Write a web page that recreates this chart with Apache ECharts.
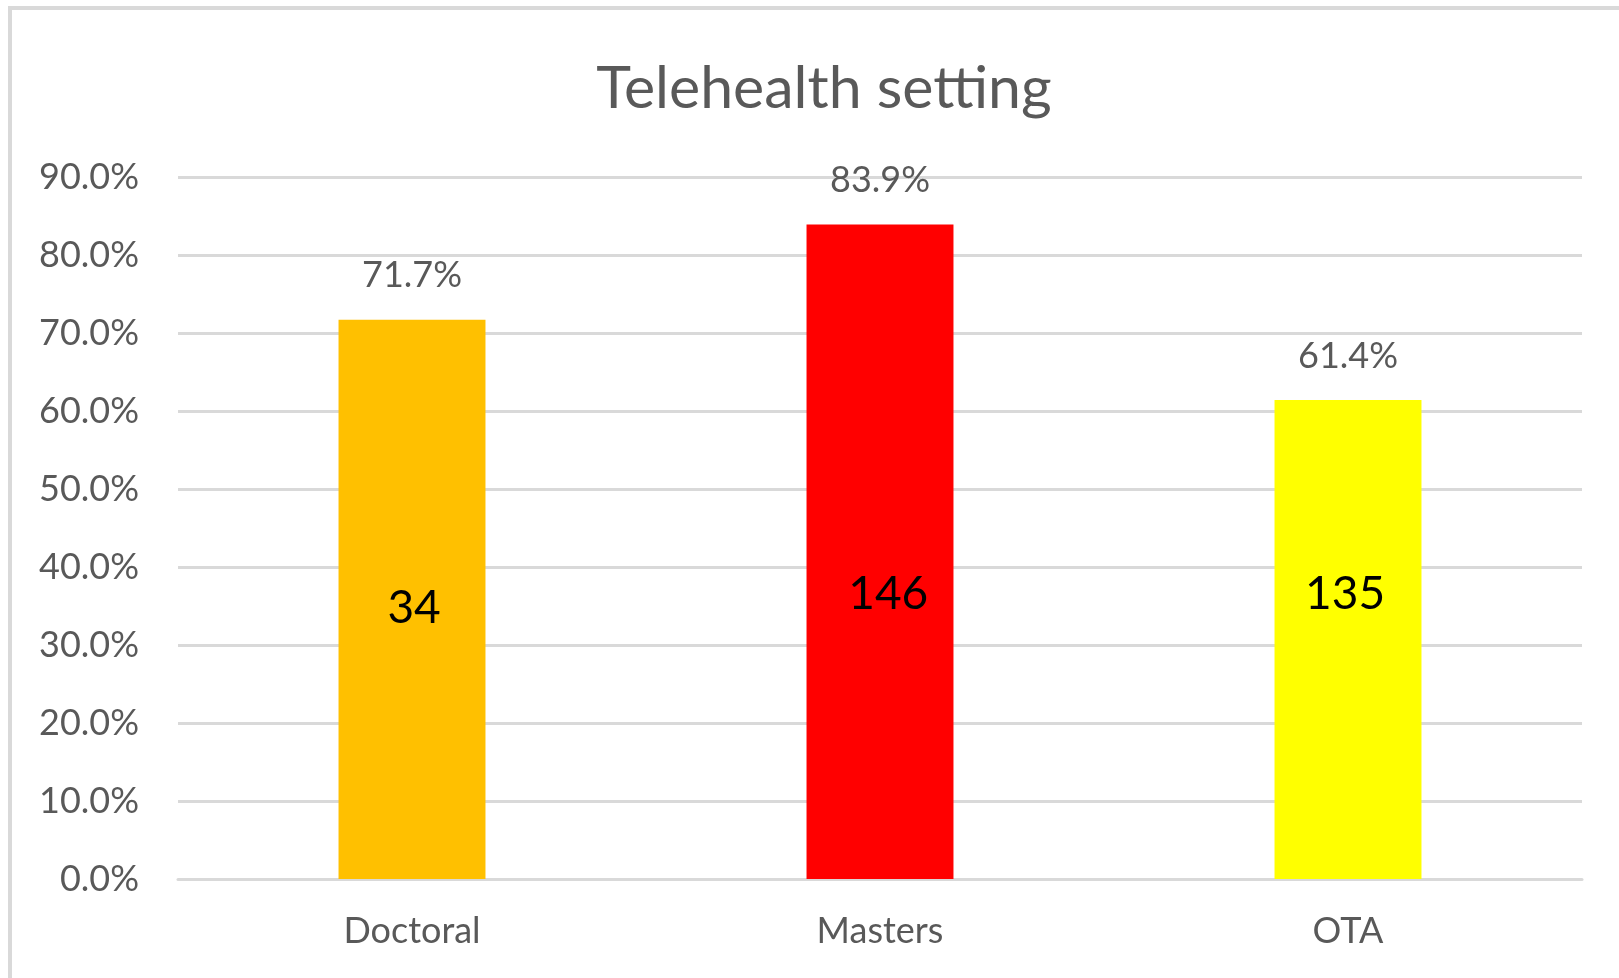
<!DOCTYPE html>
<html>
<head>
<meta charset="utf-8">
<script src="https://cdn.jsdelivr.net/npm/echarts@6/dist/echarts.min.js"></script>
<style>
  html, body { margin: 0; padding: 0; background: #fff; overflow: hidden; }
  #frame { position: absolute; left: 8px; top: 6px; width: 1700px; height: 1100px; border: 4px solid #d9d9d9; }
  #chart { position: absolute; left: 0; top: 0; width: 1619px; height: 978px; }
</style>
</head>
<body>
<div id="frame"></div>
<div id="chart"></div>
<script>
const categories = ['Doctoral', 'Masters', 'OTA']
const shares = [0.717, 0.839, 0.614]
const counts = [34, 146, 135]
const barColors = ['#FFC000', '#FF0000', '#FFFF00']
// where the count sits inside each bar (percent of bar width / height)
const countPos = [['51.4%', '51.6%'], ['55.6%', '56.5%'], ['48%', '40.5%']]

const font = 'Lato, "Open Sans", sans-serif'
const grey = '#595959'

const chart = echarts.init(document.getElementById('chart'))
const option = {
  animation: false,
  title: {
    text: 'Telehealth setting',
    left: 819,
    textAlign: 'center',
    top: 54,
    textStyle: { fontFamily: font, fontSize: 59, fontWeight: 'normal', color: grey }
  },
  grid: { // 调整图表位置
    left: 178,
    right: 37,
    top: 177,
    bottom: 99
  },
  xAxis: {
    type: 'category',
    data: categories,
    axisLine: { lineStyle: { color: '#d9d9d9', width: 3 } },
    axisTick: { show: false },
    axisLabel: { color: grey, fontFamily: font, fontSize: 36, margin: 34 }
  },
  yAxis: {
    type: 'value',
    min: 0,
    max: 0.9,
    interval: 0.1,
    axisLine: { show: false },
    axisTick: { show: false },
    splitLine: { lineStyle: { color: '#d9d9d9', width: 3 } },
    axisLabel: {
      color: grey, fontFamily: font, fontSize: 36, margin: 39,
      formatter: v => (v * 100).toFixed(1) + '%'
    }
  },
  series: [
    {
      name: 'share',
      type: 'bar',
      barWidth: '31.4%',
      data: shares.map((v, i) => ({ value: v, itemStyle: { color: barColors[i] } })),
      label: {
        show: true,
        position: 'top',
        distance: 26,
        color: grey,
        fontFamily: font,
        fontSize: 36,
        formatter: p => (p.value * 100).toFixed(1) + '%'
      }
    },
    {
      name: 'count',
      type: 'bar',
      barWidth: '31.4%',
      barGap: '-100%',
      silent: true,
      itemStyle: { color: 'transparent' },
      data: shares.map((v, i) => ({
        value: v,
        label: {
          show: true,
          position: countPos[i],
          align: 'center',
          verticalAlign: 'middle',
          color: '#000',
          fontFamily: font,
          fontSize: 46,
          formatter: () => String(counts[i])
        }
      }))
    }
  ]
}
chart.setOption(option)
window.addEventListener('resize', () => {
  chart.resize()
})
</script>
</body>
</html>
